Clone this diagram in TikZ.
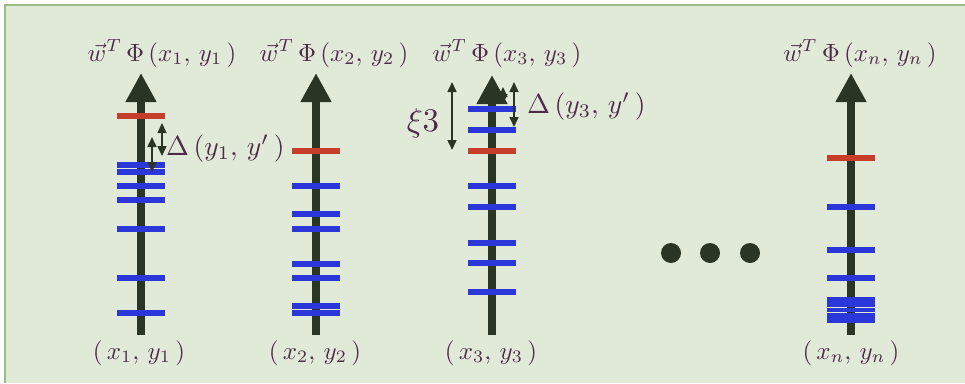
\documentclass[tikz,border=0pt]{standalone}
\usetikzlibrary{arrows.meta}
\definecolor{bgc}{HTML}{E1E9D9}
\definecolor{bordc}{HTML}{9DBD86}
\definecolor{dark}{HTML}{2B3526}
\definecolor{tblue}{HTML}{2C37DA}
\definecolor{tred}{HTML}{C63D2A}
\definecolor{txt}{HTML}{4E2C48}
\newcommand{\gp}{\mkern3mu}
\newcommand{\bigtxt}[1]{\scalebox{2.5}{#1}}
\tikzset{
  axis/.style={line width=8pt, draw=dark, -{Triangle[length=29pt,width=29pt]}},
  tickb/.style={line width=5.5pt, draw=tblue},
  tickr/.style={line width=5.5pt, draw=tred},
  dbl/.style={line width=1.5pt, draw=dark, {Triangle[length=10pt,width=9pt]}-{Triangle[length=10pt,width=9pt]}},
  lbl/.style={text=txt, inner sep=0pt},
  dot/.style={circle, fill=dark, minimum size=20pt, inner sep=0pt},
}
\begin{document}
\begin{tikzpicture}[x=1pt,y=-1pt]
\useasboundingbox (0,0) rectangle (965,383);
\fill[white] (0,0) rectangle (965,383);
\fill[bgc] (5,5) rectangle (965,383);
\draw[bordc, line width=2pt] (5,383) -- (5,5) -- (965,5);
% axes
\coordinate (b1) at (141,335); \coordinate (t1) at (141,73);
\coordinate (b2) at (316,335); \coordinate (t2) at (316,73);
\coordinate (b3) at (492,335); \coordinate (t3) at (492,75);
\coordinate (bn) at (851,335); \coordinate (tn) at (851,73);
\draw[axis] (b1) -- (t1);
\draw[axis] (b2) -- (t2);
\draw[axis] (b3) -- (t3);
\draw[axis] (bn) -- (tn);
% ticks axis 1
\draw[tickr] (117,116) -- (165,116);
\foreach \y in {165,172,186,200,229,278,313} \draw[tickb] (117,\y) -- (165,\y);
% ticks axis 2
\draw[tickr] (292,151) -- (340,151);
\foreach \y in {186,214,229,264,278,306,313} \draw[tickb] (292,\y) -- (340,\y);
% ticks axis 3
\draw[tickr] (468,151) -- (516,151);
\foreach \y in {109,130,186,207,243,263,292} \draw[tickb] (468,\y) -- (516,\y);
% ticks axis n
\draw[tickr] (827,158) -- (875,158);
\foreach \y in {207,250,278} \draw[tickb] (827,\y) -- (875,\y);
\foreach \y in {299.6,304.8,310,315.2,320.4} \draw[tickb, line width=4.8pt] (827,\y) -- (875,\y);
% delta arrows axis 1
\coordinate (da1) at (162,123); \coordinate (da2) at (162,156);
\coordinate (db1) at (152,137); \coordinate (db2) at (152,172);
\draw[dbl] (da1) -- (da2);
\draw[dbl] (db1) -- (db2);
% axis 3 arrows
\coordinate (x1) at (452,82); \coordinate (x2) at (452,150);
\coordinate (dc1) at (514,82); \coordinate (dc2) at (514,127);
\coordinate (dd1) at (503,87); \coordinate (dd2) at (503,104);
\draw[dbl] (x1) -- (x2);
\draw[dbl] (dc1) -- (dc2);
\draw[dbl] (dd1) -- (dd2);
% labels
\node[lbl, anchor=base] (L1) at (162,61) {\bigtxt{$\vec{w}^{T}\gp\Phi\gp(x_1,\, y_1\gp)$}};
\node[lbl, anchor=base] (L2) at (334,61) {\bigtxt{$\vec{w}^{T}\gp\Phi\gp(x_2,\, y_2\gp)$}};
\node[lbl, anchor=base] (L3) at (507,61) {\bigtxt{$\vec{w}^{T}\gp\Phi\gp(x_3,\, y_3\gp)$}};
\node[lbl, anchor=base] (Ln) at (860,61) {\bigtxt{$\vec{w}^{T}\gp\Phi\gp(x_n,\, y_n\gp)$}};
\node[lbl, anchor=base] (B1) at (139,359) {\bigtxt{$(\gp x_1,\, y_1\gp)$}};
\node[lbl, anchor=base] (B2) at (315,359) {\bigtxt{$(\gp x_2,\, y_2\gp)$}};
\node[lbl, anchor=base] (B3) at (491,359) {\bigtxt{$(\gp x_3,\, y_3\gp)$}};
\node[lbl, anchor=base] (Bn) at (851,359) {\bigtxt{$(\gp x_n,\, y_n\gp)$}};
\node[lbl, anchor=base west] (D1) at (166,155) {\scalebox{2.75}{$\Delta\gp(y_1,\, y'\gp)$}};
\node[lbl, anchor=base west] (D3) at (527,113) {\scalebox{2.75}{$\Delta\gp(y_3,\, y'\gp)$}};
\node[lbl, anchor=base] (X3) at (423,131) {\scalebox{3.3}{$\xi3$}};
% dots
\node[dot] (d1) at (671,253) {};
\node[dot] (d2) at (710,253) {};
\node[dot] (d3) at (750,253) {};
\end{tikzpicture}
\end{document}
